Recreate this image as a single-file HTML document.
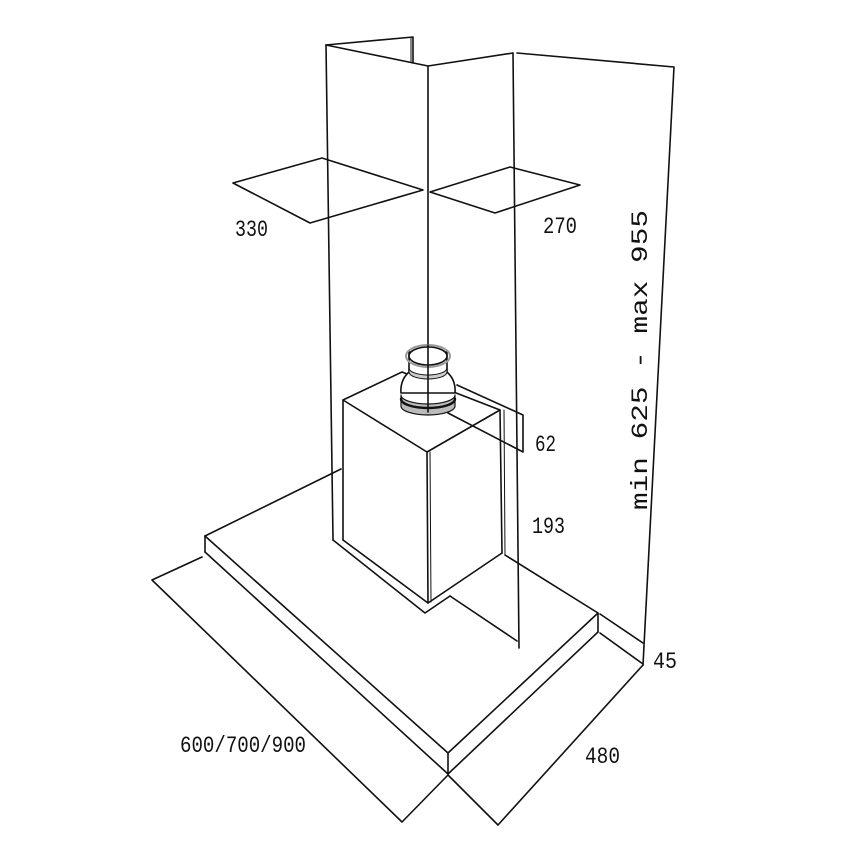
<!DOCTYPE html>
<html><head><meta charset="utf-8"><style>html,body{margin:0;background:#fff}</style></head>
<body>
<svg width="850" height="850" viewBox="0 0 850 850" xmlns="http://www.w3.org/2000/svg">
<g fill="none" stroke="#111" stroke-width="1.6" stroke-linejoin="round" stroke-linecap="round">
<polyline points="326,45 413,37 413,63"/>
<line x1="411" y1="38" x2="411" y2="62" stroke-width="1"/>
<polyline points="326,45 428,66 513,53"/>
<polyline points="517,53 674,67 643,665"/>
<line x1="326" y1="45" x2="333" y2="540"/>
<line x1="428" y1="66" x2="428" y2="450"/>
<line x1="513" y1="53" x2="519" y2="648"/>
<polygon points="233,183 322,158 423,190 310,223"/>
<polygon points="430,192 510,167 580,185 495,213"/>
<polyline points="205,536 341,469"/>
<polyline points="205,536 448,753 598,613 505,555"/>
<polyline points="205,552 448,774 598,632"/>
<line x1="205" y1="536" x2="205" y2="552"/>
<line x1="448" y1="753" x2="448" y2="774"/>
<line x1="598" y1="613" x2="598" y2="632"/>
<polyline points="202,557 152,580 402,822 448,775 498,825 643,665"/>
<line x1="600" y1="633" x2="643" y2="664"/>
<line x1="600" y1="614" x2="643" y2="643"/>
<line x1="450" y1="596" x2="517" y2="641"/>
<polygon points="343,400 402,372 500,410 427,452" fill="#fff"/>
<line x1="343" y1="400" x2="343" y2="540"/>
<line x1="427" y1="452" x2="428" y2="603"/>
<line x1="430" y1="452" x2="431" y2="602" stroke-width="1"/>
<line x1="500" y1="410" x2="502" y2="553"/>
<line x1="504" y1="410" x2="505" y2="555" stroke-width="1"/>
<polyline points="343,540 428,603 502,553"/>
<polyline points="333,540 425,613 450,596"/>
<polyline points="457,385 523,415 523,452 448,413"/>
<path d="M401,393 Q400,380 409,372 L409,352 L447,352 L447,372 Q456,380 455,393 Z" fill="#fff"/>
<path d="M401,395 L401,406 A27,9 0 0 0 455,406 L455,395 A27,9 0 0 1 401,395Z" fill="#bbb" stroke-width="1.2"/>
<path d="M409,368 A19,7 0 0 0 447,368 L447,372 A19,7 0 0 1 409,372Z" fill="#ccc" stroke-width="1"/>
<ellipse cx="428" cy="356" rx="19" ry="9" fill="#fff"/>
<ellipse cx="428" cy="356" rx="22" ry="11" fill="none" stroke="#999" stroke-width="2"/>
<path d="M401,399 A27,9 0 0 0 455,399" stroke-width="2.4"/>
<line x1="428" y1="345" x2="428" y2="412"/>
</g>
<g font-family="Liberation Mono, monospace" font-size="23" fill="#111" lengthAdjust="spacingAndGlyphs">
<text x="235" y="236" textLength="33" lengthAdjust="spacingAndGlyphs">330</text>
<text x="543" y="233" textLength="34" lengthAdjust="spacingAndGlyphs">270</text>
<text x="535" y="451" textLength="21" lengthAdjust="spacingAndGlyphs">62</text>
<text x="532" y="533" textLength="33" lengthAdjust="spacingAndGlyphs">193</text>
<text x="653" y="668" textLength="24" lengthAdjust="spacingAndGlyphs">45</text>
<text x="585" y="763" textLength="35" lengthAdjust="spacingAndGlyphs">480</text>
<text x="180" y="752" textLength="126" lengthAdjust="spacingAndGlyphs">600/700/900</text>
<text transform="translate(647,510) rotate(-90)" textLength="300" lengthAdjust="spacingAndGlyphs">min 625 - max 955</text>
</g>
</svg>
</body></html>
